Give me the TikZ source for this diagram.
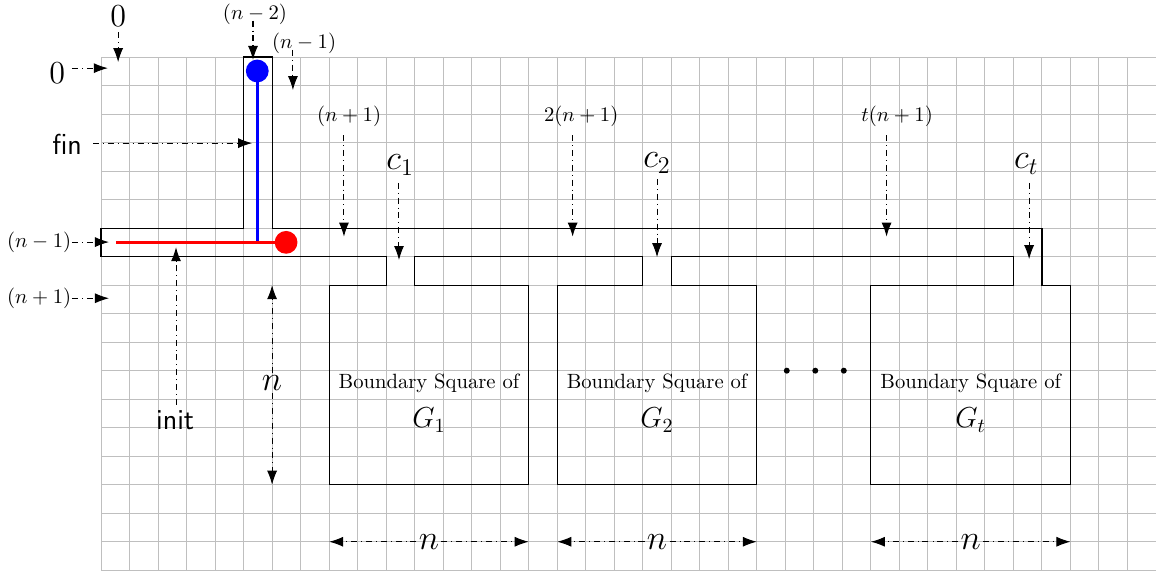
\RequirePackage{fix-cm}
\documentclass[tikz,border=0pt]{standalone}
\usetikzlibrary{arrows.meta}
\begin{document}
\begin{tikzpicture}[x=0.5cm,y=0.5cm,
  gridline/.style={draw=black!25, line width=0.5pt},
  wall/.style={draw=black, line width=0.6pt, line join=miter},
  arr/.style={-{Latex[length=7pt,width=5pt]}, dash dot, line width=0.5pt},
  big/.style={font=\LARGE, inner sep=1pt},
  zero/.style={font=\fontsize{16}{19}\selectfont, inner sep=1pt},
  mid/.style={font=\fontsize{10.3}{12}\selectfont, inner sep=1pt},
  sans/.style={font=\Large\sffamily, inner sep=1pt},
  gl/.style={font=\Large, inner sep=1pt},
  dotm/.style={fill=black}]
\useasboundingbox (-3.543,-18.105) rectangle (37,2);
\draw[gridline, step=0.5cm] (0,-18) grid (37,0);

% walls
\draw[wall] (33,-8) -- (33,-6) -- (6,-6) -- (6,0) -- (5,0) -- (5,-6) -- (0,-6) -- (0,-7)
  -- (10,-7) -- (10,-8) -- (8,-8) -- (8,-15) -- (15,-15) -- (15,-8) -- (11,-8) -- (11,-7)
  -- (19,-7) -- (19,-8) -- (16,-8) -- (16,-15) -- (23,-15) -- (23,-8) -- (20,-8) -- (20,-7)
  -- (32,-7) -- (32,-8) -- (27,-8) -- (27,-15) -- (34,-15) -- (34,-8) -- cycle;

% blue and red paths
\coordinate (bt) at (5.48,-0.49);
\coordinate (bb) at (5.48,-6.5);
\coordinate (rl) at (0.53,-6.5);
\coordinate (rr) at (6.49,-6.5);
\draw[blue, line width=1.5pt] (bt) -- (bb);
\fill[blue] (bt) circle (0.4);
\draw[red, line width=1.5pt] (rl) -- (rr);
\fill[red] (rr) circle (0.4);

% top 0
\node[zero] (ztop) at (0.6,1.42) {$0$};
\coordinate (ztops) at (0.6,0.87);
\coordinate (ztope) at (0.6,-0.18);
\draw[arr] (ztops) -- (ztope);
% left 0
\node[zero] (zleft) at (-1.54,-0.56) {$0$};
\coordinate (zlefts) at (-1.02,-0.39);
\coordinate (zlefte) at (0.24,-0.39);
\draw[arr] (zlefts) -- (zlefte);
% (n-2)
\node[mid] (nm2) at (5.4,1.5) {$(n-2)$};
\coordinate (nm2s) at (5.33,1.28);
\coordinate (nm2e) at (5.33,-0.1);
\draw[arr] (nm2s) -- (nm2e);
% (n-1) top
\node[mid] (nm1t) at (7.12,0.49) {$(n-1)$};
\coordinate (nm1ts) at (6.73,0.25);
\coordinate (nm1te) at (6.73,-1.16);
\draw[arr] (nm1ts) -- (nm1te);
% fin
\node[sans] (fin) at (-1.19,-3.07) {fin};
\coordinate (fins) at (-0.28,-3.02);
\coordinate (fine) at (5.3,-3.02);
\draw[arr] (fins) -- (fine);
% (n-1) left
\node[mid] (nm1l) at (-2.17,-6.49) {$(n-1)$};
\coordinate (nm1ls) at (-1.02,-6.49);
\coordinate (nm1le) at (0.28,-6.49);
\draw[arr] (nm1ls) -- (nm1le);
% (n+1) left
\node[mid] (np1l) at (-2.17,-8.46) {$(n+1)$};
\coordinate (np1ls) at (-1.02,-8.46);
\coordinate (np1le) at (0.28,-8.46);
\draw[arr] (np1ls) -- (np1le);
% init
\node[sans] (init) at (2.6,-12.74) {init};
\coordinate (inits) at (2.63,-12.2);
\coordinate (inite) at (2.63,-6.67);
\draw[arr] (inits) -- (inite);
% vertical n
\node[big] (nv) at (6,-11.44) {$n$};
\coordinate (nvt) at (6,-8);
\coordinate (nvb) at (6,-15);
\draw[arr] (nv) -- (nvt);
\draw[arr] (nv) -- (nvb);

% top multiples
\node[mid] (m1) at (8.7,-2.07) {$(n+1)$};
\coordinate (m1s) at (8.52,-2.74);
\coordinate (m1e) at (8.52,-6.3);
\draw[arr] (m1s) -- (m1e);
\node[mid] (m2) at (16.84,-2.07) {$2(n+1)$};
\coordinate (m2s) at (16.54,-2.74);
\coordinate (m2e) at (16.54,-6.3);
\draw[arr] (m2s) -- (m2e);
\node[mid] (mt) at (27.92,-2.07) {$t(n+1)$};
\coordinate (mts) at (27.55,-2.74);
\coordinate (mte) at (27.55,-6.3);
\draw[arr] (mts) -- (mte);

% c labels
\node[big] (c1) at (10.49,-3.79) {$c_1$};
\coordinate (c1s) at (10.45,-4.41);
\coordinate (c1e) at (10.45,-7.12);
\draw[arr] (c1s) -- (c1e);
\node[big] (c2) at (19.5,-3.72) {$c_2$};
\coordinate (c2s) at (19.5,-4.28);
\coordinate (c2e) at (19.5,-7.02);
\draw[arr] (c2s) -- (c2e);
\node[big] (ct) at (32.45,-3.75) {$c_t$};
\coordinate (cts) at (32.55,-4.41);
\coordinate (cte) at (32.55,-7.09);
\draw[arr] (cts) -- (cte);

% boxes text
\node[mid] (b1) at (11.5,-11.44) {Boundary Square of};
\node[gl] (g1) at (11.5,-12.74) {$G_1$};
\node[mid] (b2) at (19.5,-11.44) {Boundary Square of};
\node[gl] (g2) at (19.5,-12.74) {$G_2$};
\node[mid] (bt3) at (30.5,-11.44) {Boundary Square of};
\node[gl] (gt) at (30.5,-12.74) {$G_t$};

% dots
\fill[dotm] (24.05,-11) circle (0.105);
\fill[dotm] (25.05,-11) circle (0.105);
\fill[dotm] (26.05,-11) circle (0.105);

% bottom n
\node[big] (nb1) at (11.5,-17) {$n$};
\coordinate (nb1l) at (8,-17);
\coordinate (nb1r) at (15,-17);
\draw[arr] (nb1) -- (nb1l);
\draw[arr] (nb1) -- (nb1r);
\node[big] (nb2) at (19.5,-17) {$n$};
\coordinate (nb2l) at (16,-17);
\coordinate (nb2r) at (23,-17);
\draw[arr] (nb2) -- (nb2l);
\draw[arr] (nb2) -- (nb2r);
\node[big] (nb3) at (30.5,-17) {$n$};
\coordinate (nb3l) at (27,-17);
\coordinate (nb3r) at (34,-17);
\draw[arr] (nb3) -- (nb3l);
\draw[arr] (nb3) -- (nb3r);
\end{tikzpicture}
\end{document}
